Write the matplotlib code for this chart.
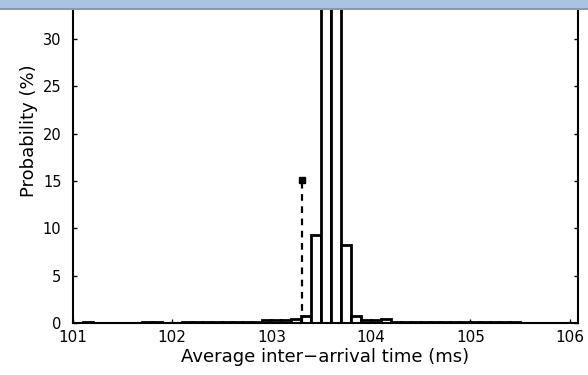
import numpy as np
import matplotlib
matplotlib.use("Agg")
import matplotlib.pyplot as plt
from matplotlib.patches import Rectangle

# histogram bins (left edges, ms) and probabilities (%)
bin_left = [101.1, 101.7, 101.8,
            102.1, 102.2, 102.3, 102.4, 102.5, 102.6, 102.7, 102.8,
            102.9, 103.0, 103.1, 103.2, 103.3,
            103.4, 103.5, 103.6, 103.7,
            103.8, 103.9, 104.0, 104.1,
            104.2, 104.3, 104.4, 104.5, 104.6, 104.7, 104.8, 104.9,
            105.0, 105.1, 105.2, 105.3, 105.4]
prob = [0.15, 0.15, 0.15,
        0.1, 0.1, 0.1, 0.1, 0.1, 0.1, 0.1, 0.1,
        0.3, 0.3, 0.3, 0.4, 0.7,
        9.3, 42.0, 39.0, 8.2,
        0.7, 0.3, 0.3, 0.4,
        0.1, 0.1, 0.1, 0.1, 0.1, 0.1, 0.1, 0.1,
        0.1, 0.1, 0.1, 0.1, 0.1]
bin_width = 0.1

# average inter-arrival time marker
avg_x = 103.31
avg_y = 15.1

plt.rcParams["font.family"] = ["DejaVu Sans"]

fig = plt.figure(figsize=(5.88, 3.75), dpi=100)
# axes runs past the top edge of the picture (cropped like the original)
ax = fig.add_axes([0.1235, 0.1387, 0.859, 1.010])

ax.bar(bin_left, prob, width=bin_width, align="edge",
       color="white", edgecolor="black", linewidth=2.0, zorder=2)

ax.plot([avg_x, avg_x], [0, avg_y], color="black", linestyle=(0, (3, 2.5)),
        linewidth=1.6, zorder=3)
ax.plot([avg_x], [avg_y], marker="s", markersize=5, color="black", zorder=4)

ax.set_xlim(101, 106.08)
ax.set_ylim(0, 40)
ax.set_xticks([101, 102, 103, 104, 105, 106])
ax.set_yticks([0, 5, 10, 15, 20, 25, 30])
ax.tick_params(direction="in", length=3, width=1, top=True, right=True)
ax.tick_params(axis="x", labelsize=11, pad=5)
ax.tick_params(axis="y", labelsize=10.5, pad=8)
for s in ax.spines.values():
    s.set_linewidth(1.5)

ax.set_xlabel("Average inter\u2212arrival time (ms)", fontsize=13)
ax.xaxis.set_label_coords(0.5, -0.066)
ax.set_ylabel("Probability (%)", fontsize=13)
ax.yaxis.set_label_coords(-0.069, 0.509)

# light blue band at the top of the picture
fig.add_artist(Rectangle((0, 1 - 8 / 375), 1, 8 / 375, transform=fig.transFigure,
                         facecolor="#aac3e3", edgecolor="none", zorder=10))
fig.add_artist(Rectangle((0, 1 - 9.5 / 375), 1, 1.5 / 375, transform=fig.transFigure,
                         facecolor="#8b98a8", edgecolor="none", zorder=10))

fig.savefig("out.png", dpi=100)
